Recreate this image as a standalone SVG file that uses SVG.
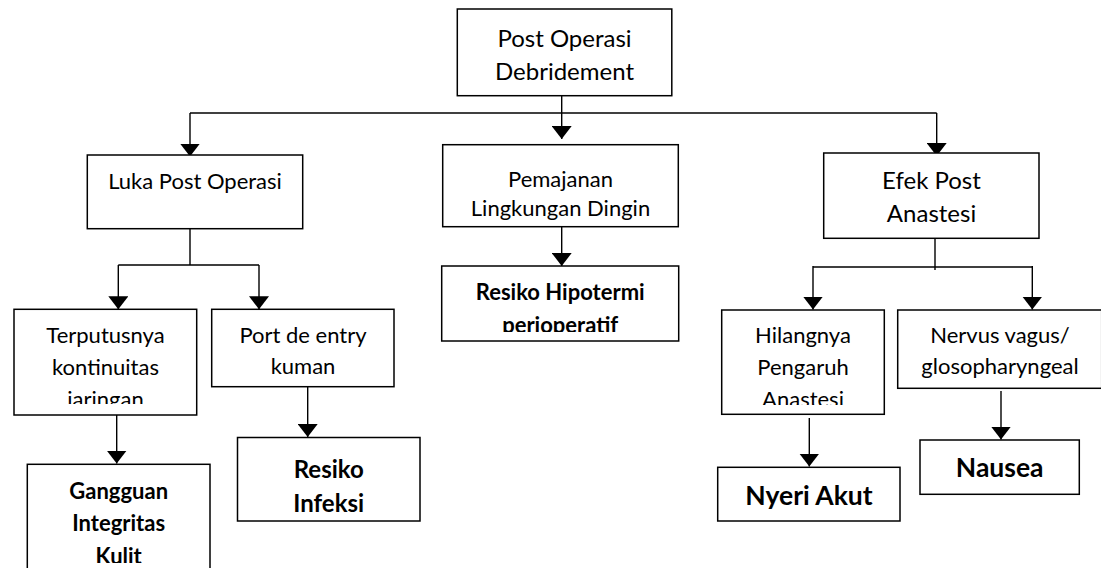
<svg xmlns="http://www.w3.org/2000/svg" width="1101" height="568" viewBox="0 0 1101 568">
<style>
.box{fill:#fff;stroke:#000;stroke-width:1.5}
.t{font-family:Lato,"Open Sans",sans-serif;fill:#000;text-anchor:middle;font-size:22px}
.big{font-size:24px}
.b{font-weight:bold;font-size:22px}
.b2{font-weight:bold;font-size:24px}
.b3{font-weight:bold;font-size:26.5px}
.c{fill:none;stroke:#000;stroke-width:1.4}
</style>
<defs>
<marker id="arr" viewBox="0 0 13 20" refX="13" refY="10" markerWidth="13" markerHeight="20" markerUnits="userSpaceOnUse" orient="auto">
<path d="M0,0 L13,10 L0,20 z" fill="#000"/>
</marker>
<clipPath id="cTer"><rect x="14" y="309" width="183" height="95"/></clipPath>
<clipPath id="cHil"><rect x="721" y="310" width="164" height="95"/></clipPath>
<clipPath id="cHip"><rect x="441" y="266" width="238" height="66"/></clipPath>
<clipPath id="cGan"><rect x="27" y="464" width="183" height="99"/></clipPath>
</defs>

<g id="connectors">
<path class="c" d="M561.7,96 V139" marker-end="url(#arr)"/>
<path class="c" d="M190,113 H936.7"/>
<path class="c" d="M190,113 V156.5" marker-end="url(#arr)"/>
<path class="c" d="M936.7,113 V156" marker-end="url(#arr)"/>
<path class="c" d="M190,229 V265 M118.3,265 H259"/>
<path class="c" d="M118.3,265 V309.3" marker-end="url(#arr)"/>
<path class="c" d="M259,265 V309.3" marker-end="url(#arr)"/>
<path class="c" d="M116.7,415 V463.5" marker-end="url(#arr)"/>
<path class="c" d="M307.7,387 V437" marker-end="url(#arr)"/>
<path class="c" d="M561.7,227 V266" marker-end="url(#arr)"/>
<path class="c" d="M935,235 V270 M813,267 H1032.3"/>
<path class="c" d="M813,266 V309.5" marker-end="url(#arr)"/>
<path class="c" d="M1032.3,266 V309.5" marker-end="url(#arr)"/>
<path class="c" d="M809.3,418 V466.5" marker-end="url(#arr)"/>
<path class="c" d="M1001,391 V439.5" marker-end="url(#arr)"/>
</g>

<g id="n-top">
<rect class="box" x="457.3" y="9" width="214.5" height="86.7"/>
<text class="t big" x="564.5" y="47">Post Operasi</text>
<text class="t big" x="564.5" y="80">Debridement</text>
</g>

<g id="n-luka">
<rect class="box" x="87.3" y="155" width="215.4" height="73.7"/>
<text class="t" x="195" y="189">Luka Post Operasi</text>
</g>

<g id="n-pemajanan">
<rect class="box" x="442.7" y="144.7" width="235.6" height="82"/>
<text class="t" x="560.5" y="187">Pemajanan</text>
<text class="t" x="560.5" y="216">Lingkungan Dingin</text>
</g>

<g id="n-efek">
<rect class="box" x="823.7" y="153" width="215.3" height="85.3"/>
<text class="t big" x="931.5" y="189">Efek Post</text>
<text class="t big" x="931.5" y="222">Anastesi</text>
</g>

<g id="n-terputus">
<rect class="box" x="14" y="309.3" width="182.7" height="105.7"/>
<g clip-path="url(#cTer)">
<text class="t" x="105.5" y="342.7">Terputusnya</text>
<text class="t" x="105.5" y="375">kontinuitas</text>
<text class="t" x="105.5" y="407">jaringan</text>
</g>
</g>

<g id="n-port">
<rect class="box" x="211.7" y="309.3" width="182.3" height="77.4"/>
<text class="t" x="303" y="343.3">Port de entry</text>
<text class="t" x="303" y="374">kuman</text>
</g>

<g id="n-gangguan">
<rect class="box" x="27.3" y="464.3" width="182.7" height="110"/>
<g clip-path="url(#cGan)">
<text class="t b" x="118.7" y="499.3">Gangguan</text>
<text class="t b" x="118.7" y="531">Integritas</text>
<text class="t b" x="118.7" y="564">Kulit</text>
</g>
</g>

<g id="n-infeksi">
<rect class="box" x="237.5" y="437.5" width="182.5" height="83.5"/>
<text class="t b2" x="328.75" y="478">Resiko</text>
<text class="t b2" x="328.75" y="512">Infeksi</text>
</g>

<g id="n-hipotermi">
<rect class="box" x="441.7" y="266" width="237" height="75"/>
<g clip-path="url(#cHip)">
<text class="t b" x="560.2" y="300">Resiko Hipotermi</text>
<text class="t b" x="560.2" y="333">perioperatif</text>
</g>
</g>

<g id="n-hilangnya">
<rect class="box" x="721.7" y="310" width="162.6" height="104.3"/>
<g clip-path="url(#cHil)">
<text class="t" x="803" y="343.3">Hilangnya</text>
<text class="t" x="803" y="375">Pengaruh</text>
<text class="t" x="803" y="407">Anastesi</text>
</g>
</g>

<g id="n-nervus">
<rect class="box" x="897.7" y="310" width="204" height="78.3"/>
<text class="t" x="1000" y="342.7">Nervus vagus/</text>
<text class="t" x="1000" y="374">glosopharyngeal</text>
</g>

<g id="n-nyeri">
<rect class="box" x="717.7" y="467.3" width="182.3" height="53.7"/>
<text class="t b3" x="809" y="505">Nyeri Akut</text>
</g>

<g id="n-nausea">
<rect class="box" x="920" y="440" width="159.3" height="54.3"/>
<text class="t b3" x="999.7" y="476.7">Nausea</text>
</g>
</svg>
